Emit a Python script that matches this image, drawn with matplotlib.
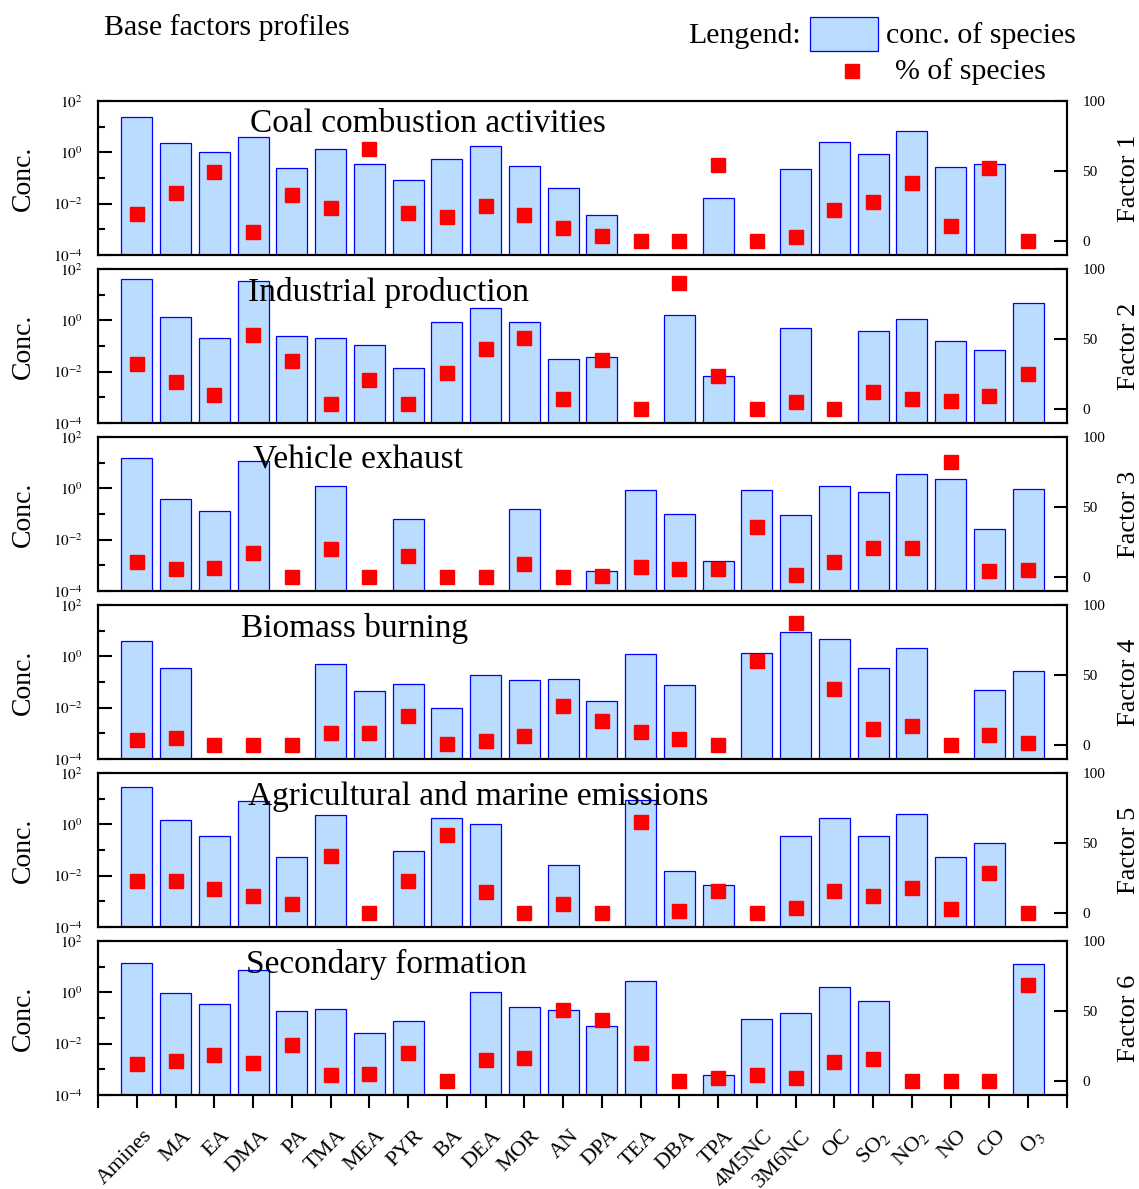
import numpy as np
import matplotlib
matplotlib.use('Agg')
import matplotlib.pyplot as plt
import matplotlib.transforms as mtransforms
from matplotlib.patches import Rectangle
from matplotlib.lines import Line2D
from matplotlib.ticker import NullFormatter

plt.rcParams['font.family'] = ['Liberation Serif', 'DejaVu Serif']
plt.rcParams['mathtext.fontset'] = 'stix'

nan = np.nan

# species on the x axis
species = ['Amines', 'MA', 'EA', 'DMA', 'PA', 'TMA', 'MEA', 'PYR', 'BA', 'DEA',
           'MOR', 'AN', 'DPA', 'TEA', 'DBA', 'TPA', '4M5NC', '3M6NC', 'OC',
           'SO$_2$', 'NO$_2$', 'NO', 'CO', 'O$_3$']

factor_names = ['Coal combustion activities', 'Industrial production',
                'Vehicle exhaust', 'Biomass burning',
                'Agricultural and marine emissions', 'Secondary formation']

# conc. of species (left, log axis); nan = no bar
conc_f1 = [23, 2.4, 1.0, 4.1, 0.24, 1.3, 0.34, 0.083, 0.55, 1.8, 0.3, 0.04,
           0.0036, nan, nan, 0.0166, nan, 0.22, 2.5, 0.87, 6.8, 0.27, 0.35, nan]
conc_f2 = [40, 1.3, 0.2, 34, 0.25, 0.2, 0.11, 0.014, 0.87, 3.0, 0.87, 0.031,
           0.037, nan, 1.6, 0.0068, nan, 0.5, nan, 0.38, 1.1, 0.16, 0.07, 4.8]
conc_f3 = [15, 0.38, 0.13, 11.7, nan, 1.2, nan, 0.064, nan, nan, 0.16, nan,
           0.0006, 0.87, 0.1, 0.0015, 0.87, 0.09, 1.2, 0.72, 3.6, 2.3, 0.026, 0.93]
conc_f4 = [4.0, 0.35, nan, nan, nan, 0.5, 0.045, 0.083, 0.0098, 0.19, 0.12, 0.13,
           0.018, 1.2, 0.076, nan, 1.3, 8.9, 4.8, 0.35, 2.1, nan, 0.049, 0.27]
conc_f5 = [28, 1.5, 0.35, 8.1, 0.053, 2.3, nan, 0.09, 1.8, 1.0, nan, 0.026,
           nan, 8.9, 0.015, 0.0043, nan, 0.35, 1.8, 0.35, 2.5, 0.053, 0.19, nan]
conc_f6 = [14, 0.93, 0.35, 7.4, 0.19, 0.22, 0.026, 0.076, nan, 1.0, 0.27, 0.2,
           0.049, 2.8, nan, 0.0006, 0.09, 0.16, 1.6, 0.46, nan, nan, nan, 12.6]

# % of species (right axis)
pct_f1 = [19, 34, 49, 6.5, 33, 23.6, 65.7, 20, 17, 25, 18.6, 9.3,
          3.6, 0, 0, 54.3, 0, 3, 22, 28, 41.4, 10.7, 52, 0]
pct_f2 = [32, 19, 10, 53, 34, 3.6, 21, 3.6, 26, 43, 51, 7,
          35, 0, 90, 23.6, 0, 5, 0, 12, 7, 6, 9, 25]
pct_f3 = [11, 5.7, 6.4, 17, 0, 20, 0, 15, 0, 0, 9, 0,
          1, 7, 5.7, 5.7, 36, 1.4, 10.7, 21, 21, 82, 4.3, 5]
pct_f4 = [3.6, 5, 0, 0, 0, 8.6, 8.6, 21, 0.7, 2.9, 6.4, 28,
          17, 9, 4.3, 0, 60, 87, 40, 11.4, 13.6, 0, 7, 1.4]
pct_f5 = [23, 23, 17, 12, 6.4, 40.7, 0, 23, 56, 15, 0, 6.4,
          0, 65, 1.4, 15.7, 0, 3.6, 15.7, 12, 17.9, 2.9, 28.6, 0]
pct_f6 = [12, 14, 18.6, 13, 26, 4.3, 5, 20, 0, 15, 16.4, 51,
          43.6, 20, 0, 2, 4.3, 2, 13.6, 15.7, 0, 0, 0, 68.6]

conc = [conc_f1, conc_f2, conc_f3, conc_f4, conc_f5, conc_f6]
pct = [pct_f1, pct_f2, pct_f3, pct_f4, pct_f5, pct_f6]

W, H = 1139, 1189
fig = plt.figure(figsize=(W / 100, H / 100), dpi=100)

x = np.arange(len(species))
title_x = [0.157, 0.155, 0.160, 0.148, 0.155, 0.153]

for i in range(6):
    top = 101 + 168 * i
    ax = fig.add_axes([98 / W, 1 - (top + 154) / H, 969 / W, 154 / H])
    ax.bar(x, conc[i], width=0.8, bottom=1e-5, color='#b9dcff',
           edgecolor='#0000ff', linewidth=0.9)
    ax.set_yscale('log')
    ax.set_ylim(1e-4, 1e2)
    ax.set_xlim(-1, 24)
    ax.set_yticks([1e-4, 1e-2, 1, 1e2])
    ax.set_yticklabels(['$10^{-4}$', '$10^{-2}$', '$10^{0}$', '$10^{2}$'])
    ax.set_yticks([1e-3, 1e-1, 1e1], minor=True)
    ax.yaxis.set_minor_formatter(NullFormatter())
    ax.tick_params(axis='y', which='major', direction='in', length=10, width=1.5,
                   labelsize=11, pad=11)
    ax.tick_params(axis='y', which='minor', direction='in', length=5, width=1.5)
    ax.set_ylabel('Conc.', fontsize=20)
    ax.yaxis.set_label_coords(-0.064, 0.5)
    ax.text(title_x[i], 0.85, factor_names[i], transform=ax.transAxes,
            fontsize=24, va='center', ha='left', zorder=5)
    for s in ax.spines.values():
        s.set_linewidth(1.5)

    ax2 = ax.twinx()
    ax2.plot(x, pct[i], 's', color='#ff0000', markersize=10, linestyle='none')
    ax2.set_ylim(-10, 100)
    ax2.set_yticks([0, 50, 100])
    ax2.tick_params(axis='y', direction='in', length=9.5, width=1.5,
                    labelsize=11, pad=11)
    ax2.set_ylabel('Factor %d' % (i + 1), fontsize=19)
    ax2.yaxis.set_label_coords(1.0526, 0.5)
    for s in ax2.spines.values():
        s.set_linewidth(1.5)

    if i < 5:
        ax.tick_params(axis='x', bottom=False, labelbottom=False)
    else:
        ax.set_xticks(np.arange(-1, 25))
        ax.set_xticklabels([''] + species + [''], rotation=45, ha='right',
                           va='center', rotation_mode='anchor', fontsize=16)
        ax.tick_params(axis='x', direction='out', length=9.5, width=1.5, pad=0)
        offset = mtransforms.ScaledTranslation(0.13, -0.25, fig.dpi_scale_trans)
        for lab in ax.get_xticklabels():
            lab.set_transform(lab.get_transform() + offset)

# header and legend
fig.text(104 / W, 1 - 28 / H, 'Base factors profiles', fontsize=21.5,
         va='center', ha='left')
fig.text(688 / W, 1 - 36 / H, 'Lengend:', fontsize=21.5, va='center', ha='left')
fig.patches.append(Rectangle((810 / W, 1 - 51 / H), 68 / W, 34 / H,
                             transform=fig.transFigure, facecolor='#b9dcff',
                             edgecolor='#0000ff', linewidth=0.9))
fig.text(886 / W, 1 - 36 / H, 'conc. of species', fontsize=21.5,
         va='center', ha='left')
fig.lines.append(Line2D([852 / W], [1 - 71 / H], transform=fig.transFigure,
                        marker='s', color='#ff0000', markersize=10,
                        linestyle='none'))
fig.text(895 / W, 1 - 72 / H, '% of species', fontsize=21.5,
         va='center', ha='left')

fig.savefig('out.png', dpi=100)
